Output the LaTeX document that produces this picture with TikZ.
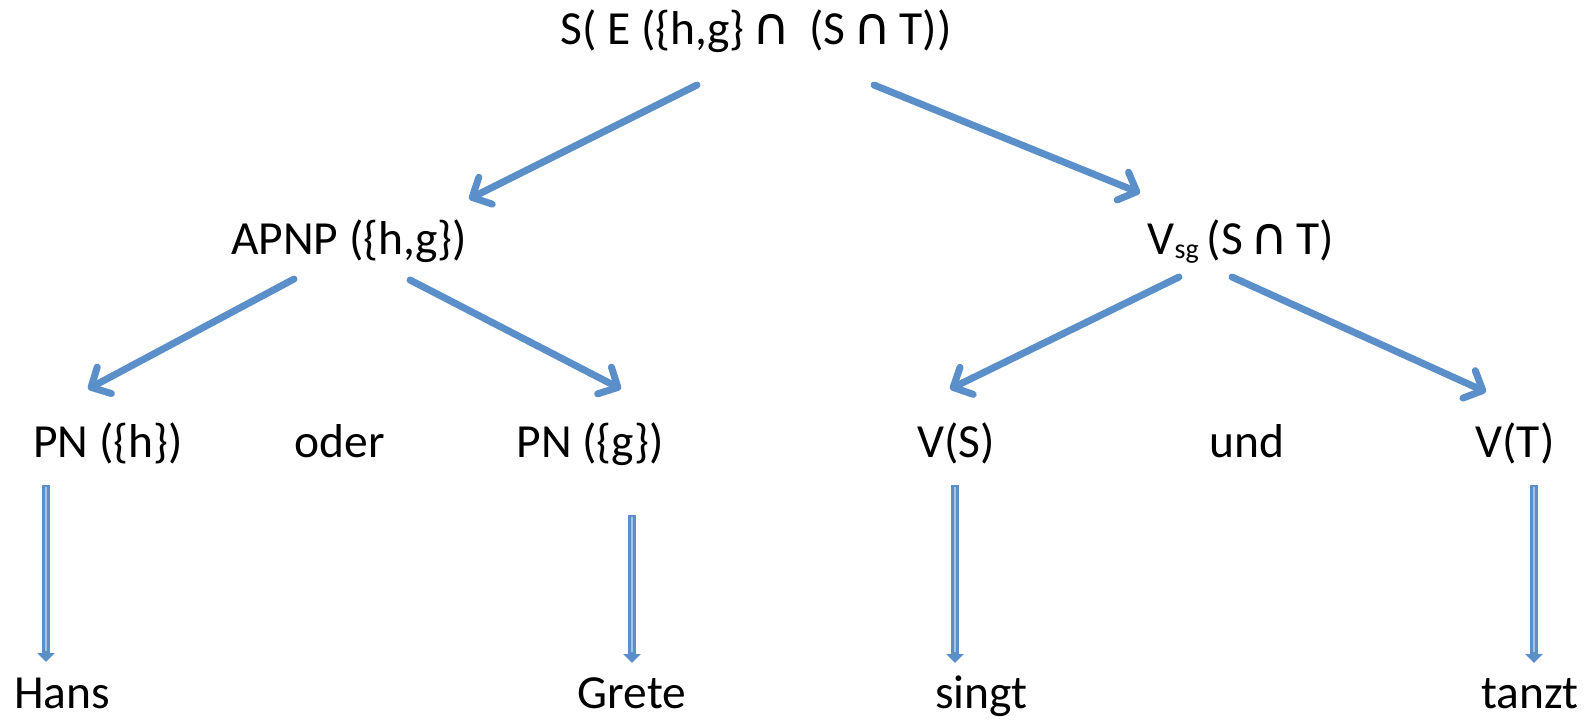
\documentclass[tikz,border=0pt]{standalone}
\usepackage{fontspec}
\setmainfont{Carlito}
\newfontfamily\symf{DejaVu Sans}
\usetikzlibrary{arrows.meta}
\definecolor{arrblue}{HTML}{5B8FCA}
\definecolor{arrlight}{HTML}{A3C5EA}
\tikzset{
  lbl/.style={inner sep=0pt, anchor=center, font=\fontsize{47.5}{56}\selectfont, text height=32pt, text depth=10pt},
  darr/.style={line width=7pt, color=arrblue, line cap=round, -{Straight Barb[length=15pt,width=30pt,line cap=round,line join=round]}},
  varr/.style={line width=8pt, color=arrblue, -{Triangle[length=9pt,width=17pt]},
    postaction={draw=arrlight, line width=2.5pt, arrows=-, shorten >=11pt, shorten <=1.5pt}}
}
\newcommand{\capx}{\,{\symf\fontsize{52}{56}\selectfont ∩}\,}
\begin{document}
\begin{tikzpicture}[x=1pt,y=-1pt]
\useasboundingbox (0,0) rectangle (1590,723);
\node[lbl] (top) at (756,33) {S( E (\{h,g\}\capx\  (S\capx T))};
\node[lbl] (apnp) at (349,243) {APNP (\{h,g\})};
\node[lbl] (vsg) at (1241,243) {V{\fontsize{28}{30}\selectfont\raisebox{-4pt}{sg}}\,(S\capx T)};
\node[lbl] (pnh) at (108,446) {PN (\{h\})};
\node[lbl] (oder) at (340,446) {oder};
\node[lbl] (png) at (590,446) {PN (\{g\})};
\node[lbl] (vs) at (956,446) {V(S)};
\node[lbl] (und) at (1247,446) {und};
\node[lbl] (vt) at (1515,446) {V(T)};
\node[lbl] (hans) at (62,697) {Hans};
\node[lbl] (grete) at (632,697) {Grete};
\node[lbl] (singt) at (981,697) {singt};
\node[lbl] (tanzt) at (1530,697) {tanzt};

\draw[darr] ([shift={(-59,52)}]top.center) -- ([shift={(120,-44)}]apnp.center);
\draw[darr] ([shift={(118,52)}]top.center) -- ([shift={(-101,-50)}]vsg.center);
\draw[darr] ([shift={(-55,36)}]apnp.center) -- ([shift={(-20,-57)}]pnh.center);
\draw[darr] ([shift={(61,37)}]apnp.center) -- ([shift={(31,-57)}]png.center);
\draw[darr] ([shift={(-62,34)}]vsg.center) -- ([shift={(-6,-57)}]vs.center);
\draw[darr] ([shift={(-9,34)}]vsg.center) -- ([shift={(-29,-54)}]vt.center);

\draw[varr] ([shift={(-62,39)}]pnh.center) -- ([shift={(-16,-35)}]hans.center);
\draw[varr] ([shift={(42,69)}]png.center) -- ([shift={(0,-34)}]grete.center);
\draw[varr] ([shift={(-1,39)}]vs.center) -- ([shift={(-26,-34)}]singt.center);
\draw[varr] ([shift={(19,39)}]vt.center) -- ([shift={(4,-34)}]tanzt.center);
\end{tikzpicture}
\end{document}
